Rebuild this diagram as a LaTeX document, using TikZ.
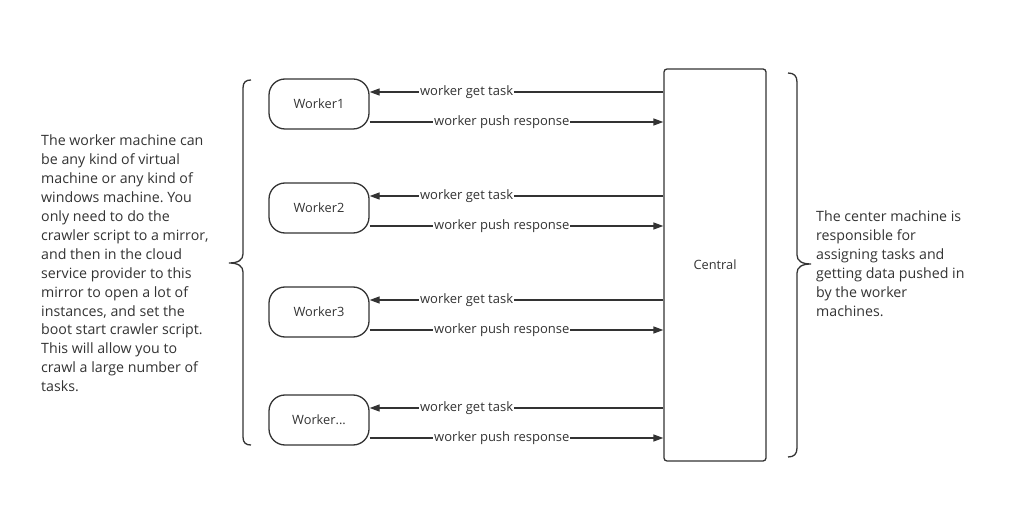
\documentclass[tikz,border=0pt]{standalone}
\usepackage{fontspec}
\setmainfont{Open Sans}
\usetikzlibrary{arrows.meta,calc}
\definecolor{ln}{HTML}{333333}
\definecolor{tx}{HTML}{333333}
\frenchspacing
\tikzset{
  worker/.style={draw=ln, line width=1.3pt, rounded corners=16pt, minimum width=100pt, minimum height=50pt, text=tx, font=\fontsize{12.8}{15}\selectfont},
  central/.style={draw=ln, line width=1.3pt, rounded corners=3pt, minimum width=102pt, minimum height=392pt, text=tx, font=\fontsize{12.8}{15}\selectfont},
  conn/.style={draw=ln, line width=1.3pt, -{Triangle[length=10pt,width=7pt]}},
  lbl/.style={fill=white, inner sep=1pt, text=tx, font=\fontsize{13}{15}\selectfont},
  brace/.style={draw=ln, line width=1.3pt},
  note/.style={text=tx, align=left, inner sep=0pt, anchor=north west, font=\fontsize{14.2}{18.9}\selectfont}
}
\begin{document}
\begin{tikzpicture}[x=1pt,y=-1pt]
\useasboundingbox (0,0) rectangle (1014,510);
\node[worker] (w1) at (319,104) {Worker1};
\node[worker] (w2) at (319,208) {Worker2};
\node[worker] (w3) at (319,312) {Worker3};
\node[worker] (w4) at (319,420) {Worker...};
\node[central] (c) at (715,265) {Central};
\foreach \w in {w1,w2,w3,w4}{
  \coordinate (g\w) at ([yshift=12pt]\w.east);
  \coordinate (p\w) at ([yshift=-18pt]\w.east);
  \draw[conn] (c.west |- g\w) -- node[lbl, pos=0.67] {worker get task} (g\w);
  \draw[conn] (p\w) -- node[lbl, pos=0.45] {worker push response} (c.west |- p\w);
}
% left brace
\coordinate (lbt) at (251,80);
\coordinate (lbb) at (251,445);
\coordinate (lbtip) at (229,263);
\draw[brace] (lbt) .. controls (246,80) and (243,82) .. (243,88) -- (243,254) .. controls (243,260) and (238,263) .. (lbtip) .. controls (238,263) and (243,266) .. (243,272) -- (243,437) .. controls (243,443) and (246,445) .. (lbb);
% right brace
\coordinate (rbt) at (788,73);
\coordinate (rbb) at (788,457);
\coordinate (rbtip) at (811,264);
\draw[brace] (rbt) .. controls (794,73) and (797,76) .. (797,82) -- (797,255) .. controls (797,261) and (802,264) .. (rbtip) .. controls (802,264) and (797,267) .. (797,273) -- (797,448) .. controls (797,454) and (794,457) .. (rbb);
\node[note] (lt) at (41,135) {The worker machine can\\be any kind of virtual\\machine or any kind of\\windows machine. You\\only need to do the\\crawler script to a mirror,\\and then in the cloud\\service provider to this\\mirror to open a lot of\\instances, and set the\\boot start crawler script.\\This will allow you to\\crawl a large number of\\tasks.};
\node[note] (rt) at (816,211) {The center machine is\\responsible for\\assigning tasks and\\getting data pushed in\\by the worker\\machines.};
\end{tikzpicture}
\end{document}
